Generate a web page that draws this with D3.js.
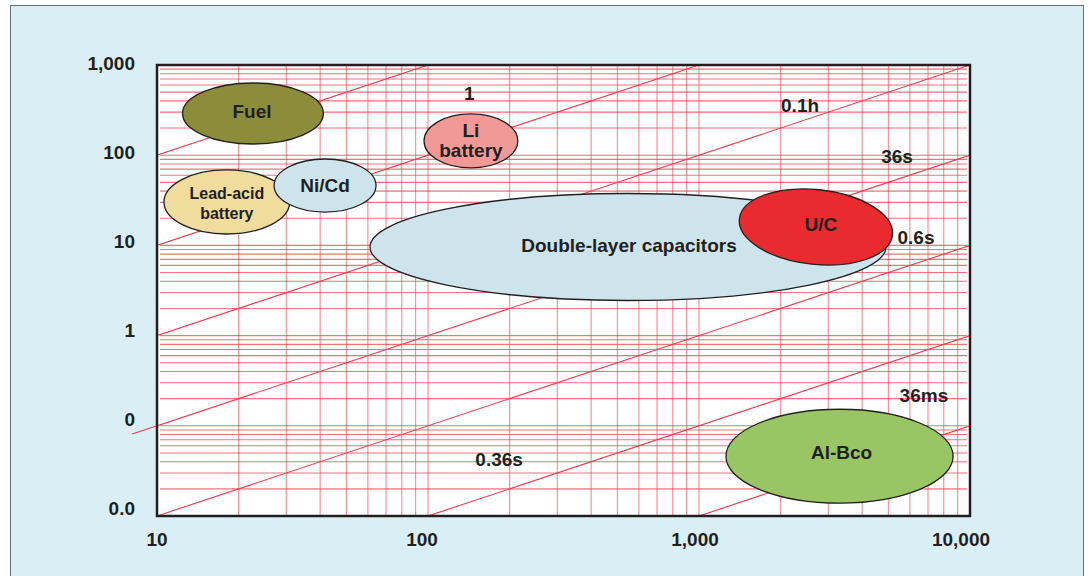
<!DOCTYPE html>
<html><head><meta charset="utf-8">
<script src="https://cdn.jsdelivr.net/npm/d3@7"></script>
<style>body{margin:0;background:#fff}svg{display:block}</style>
</head><body><svg id="c" width="1092" height="576"></svg>
<script>
// ---- data ----
const xTickValues = [10, 100, 1000, 10000];
const xTickLabels = ["10", "100", "1,000", "10,000"];
const yTickValues = [1000, 100, 10, 1, 0.1, 0.01];
const yTickLabels = ["1,000", "100", "10", "1", "0", "0.0"];
const timeConstantsHours = [10, 1, 0.1, 0.01, 0.001, 0.0001, 0.00001];
const techNames = ["Fuel", "Li\nbattery", "Lead-acid\nbattery", "Ni/Cd", "Double-layer capacitors", "U/C", "Al-Bco"];
const techPower = [22.6, 144, 18.1, 41.7, 547, 2700, 3300];
const techEnergy = [290, 144, 30.3, 46.1, 9.6, 16, 0.046];
const techPowerSpan = [0.26, 0.173, 0.232, 0.188, 0.952, 0.284, 0.419];
const techEnergySpan = [0.338, 0.299, 0.355, 0.294, 0.593, 0.415, 0.521];
const annotationLabels = ["1", "0.1h", "36s", "0.6s", "36ms", "0.36s"];
const annotationPower = [142, 2360, 5380, 6320, 6760, 183];
const annotationEnergy = [490, 360, 98, 12.4, 0.22, 0.042];

// ---- styles ----
const techStyle = {
  "Fuel": {fill: "#8c8d3b", size: 19, dx: -1, dy: -2},
  "Li\nbattery": {fill: "#f09997", size: 19, dx: 0, dy: -1},
  "Lead-acid\nbattery": {fill: "#f0dc9d", size: 16, dx: 0, dy: 1},
  "Ni/Cd": {fill: "#cde4ec", size: 19, dx: 0, dy: 0},
  "Double-layer capacitors": {fill: "#cde4ec", size: 19, dx: 1, dy: -2},
  "U/C": {fill: "#e92b2f", size: 19, rotate: 6, dx: 5, dy: -3},
  "Al-Bco": {fill: "#99c565", size: 19, dx: 2, dy: -4}
};
const xLabelShift = [0, -6, -4, -9];
const ink = "#231f20";
const gridColor = "#ee3b4c";
const font = "'Liberation Sans', Arial, sans-serif";

const svg = d3.select("#c");
const L = 157, R = 970, T = 65, B = 516;

svg.append("rect").attr("x", 10.5).attr("y", 5.5).attr("width", 1073).attr("height", 620)
  .attr("fill", "#d9eff5").attr("stroke", "#6d6e70").attr("stroke-width", 1);

const x = d3.scaleLog().domain([10, 10000]).range([L, R]);
const y = d3.scaleLog().domain([0.01, 1000]).range([B, T]);

svg.append("rect").attr("x", L).attr("y", T).attr("width", R - L).attr("height", B - T).attr("fill", "#fff");

svg.append("defs").append("clipPath").attr("id", "clip")
  .append("rect").attr("x", L).attr("y", T).attr("width", R - L).attr("height", B - T);

const grid = svg.append("g").attr("clip-path", "url(#clip)");
grid.selectAll("line.v").data(x.ticks()).join("line")
  .attr("x1", d => x(d)).attr("x2", d => x(d)).attr("y1", T).attr("y2", B)
  .attr("stroke", gridColor).attr("stroke-opacity", 0.55).attr("stroke-width", 1.2);
grid.selectAll("line.h").data(y.ticks()).join("line")
  .attr("x1", L + 3).attr("x2", R - 3).attr("y1", d => y(d)).attr("y2", d => y(d))
  .attr("stroke", gridColor).attr("stroke-opacity", 0.72).attr("stroke-width", 1.1);

const diag = d3.line().x(d => x(d[0])).y(d => y(d[1]));
grid.selectAll("path.t").data(timeConstantsHours).join("path")
  .attr("d", t => diag([[1, t], [100000, 100000 * t]]))
  .attr("fill", "none").attr("stroke", gridColor).attr("stroke-width", 1.1);
svg.append("path").attr("d", diag([[8.1, 8.1 * 0.01], [10, 0.1]]))
  .attr("fill", "none").attr("stroke", gridColor).attr("stroke-width", 1.1);

svg.append("rect").attr("x", L).attr("y", T).attr("width", R - L).attr("height", B - T)
  .attr("fill", "none").attr("stroke", ink).attr("stroke-width", 2.5);

const techs = techNames.map((n, i) => ({name: n, p: techPower[i], e: techEnergy[i], sp: techPowerSpan[i], se: techEnergySpan[i]}));
const tg = svg.append("g");
techs.forEach(d => {
  const st = techStyle[d.name];
  const cx = x(d.p), cy = y(d.e);
  const rx = x(d.p * Math.pow(10, d.sp)) - cx;
  const ry = cy - y(d.e * Math.pow(10, d.se));
  const g = tg.append("g").attr("transform", `translate(${cx},${cy})`);
  g.append("ellipse").attr("rx", rx).attr("ry", ry)
    .attr("transform", st.rotate ? `rotate(${st.rotate})` : null)
    .attr("fill", st.fill).attr("stroke", ink).attr("stroke-width", 1.3);
  const lines = d.name.split("\n");
  const lh = 20;
  const t = g.append("text").attr("text-anchor", "middle").attr("font-family", font)
    .attr("font-weight", "bold").attr("font-size", st.size).attr("fill", ink);
  lines.forEach((s, k) => {
    t.append("tspan").attr("x", st.dx).attr("y", (k - (lines.length - 1) / 2) * lh + st.dy).attr("dy", "0.35em").text(s);
  });
});

svg.selectAll("text.ann").data(annotationLabels).join("text")
  .attr("x", (d, i) => x(annotationPower[i])).attr("y", (d, i) => y(annotationEnergy[i]))
  .attr("dy", "0.35em").attr("text-anchor", "middle")
  .attr("font-family", font).attr("font-weight", "bold").attr("font-size", 19).attr("fill", ink)
  .text(d => d);

svg.selectAll("text.xl").data(xTickValues).join("text")
  .attr("x", (d, i) => x(d) + xLabelShift[i]).attr("y", 546).attr("text-anchor", "middle")
  .attr("font-family", font).attr("font-weight", "bold").attr("font-size", 19).attr("fill", ink)
  .text((d, i) => xTickLabels[i]);
svg.selectAll("text.yl").data(yTickValues).join("text")
  .attr("x", 135).attr("y", (d, i) => y(d) - 2 - 1.2 * i).attr("dy", "0.35em").attr("text-anchor", "end")
  .attr("font-family", font).attr("font-weight", "bold").attr("font-size", 19).attr("fill", ink)
  .text((d, i) => yTickLabels[i]);
</script></body></html>
